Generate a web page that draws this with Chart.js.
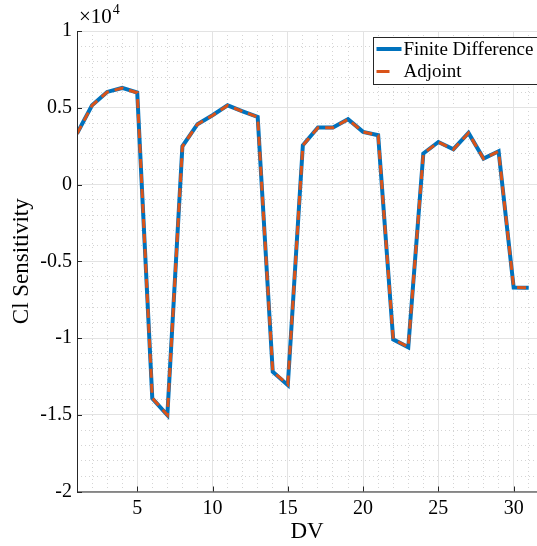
<!DOCTYPE html>
<html>
<head>
<meta charset="utf-8">
<script src="https://cdn.jsdelivr.net/npm/chart.js@4/dist/chart.umd.min.js"></script>
<style>
  html, body { margin: 0; padding: 0; background: #fff; }
  #wrap { width: 537px; height: 546px; }
</style>
</head>
<body>
<div id="wrap"><canvas id="chart"></canvas></div>
<script>
// design variables 1..31
const dv = [1,2,3,4,5,6,7,8,9,10,11,12,13,14,15,16,17,18,19,20,21,22,23,24,25,26,27,28,29,30,31];

// sensitivities (raw values, axis shows x10^4)
const finiteDiff = [3320,5160,6030,6290,5990,-13930,-15020,2490,3930,4510,5160,4770,4400,-12200,-13070,
  2560,3710,3710,4250,3430,3210,-10090,-10610,2020,2770,2300,3360,1690,2170,-6710,-6720];
const adjoint = [3300,5150,6020,6280,5980,-13920,-15010,2480,3920,4500,5150,4760,4390,-12190,-13020,
  2550,3700,3700,4240,3420,3200,-10080,-10590,2010,2760,2290,3350,1680,2160,-6700,-6730];

const seriesNames = ["Finite Difference", "Adjoint"];
const xTicks = [5, 10, 15, 20, 25, 30];
const yTicks = [-20000, -15000, -10000, -5000, 0, 5000, 10000];
const yLabels = ["-2", "-1.5", "-1", "-0.5", "0", "0.5", "1"];

const serif = "'Liberation Serif', 'DejaVu Serif', serif";
const axisColor = "#262626";

// minor tick positions for the dotted grid
const xMinor = dv.slice();
const yMinor = [];
for (let v = -20000; v <= 10000; v += 1000) yMinor.push(v);

// draws x10^4, the inward tick marks, axis lines and the legend box
const decorPlugin = {
  id: "decor",
  afterDraw(chart) {
    const ctx = chart.ctx;
    const a = chart.chartArea;
    const xs = chart.scales.x, ys = chart.scales.y;
    ctx.save();
    // axis lines
    ctx.strokeStyle = axisColor;
    ctx.lineWidth = 1;
    ctx.beginPath();
    ctx.moveTo(a.left + 0.5, a.top);
    ctx.lineTo(a.left + 0.5, a.bottom + 0.5);
    ctx.lineTo(a.right, a.bottom + 0.5);
    ctx.stroke();
    // inward ticks
    ctx.beginPath();
    xTicks.forEach(v => {
      const px = Math.round(xs.getPixelForValue(v)) + 0.5;
      ctx.moveTo(px, a.bottom);
      ctx.lineTo(px, a.bottom - 5);
    });
    yTicks.forEach(v => {
      const py = Math.round(ys.getPixelForValue(v)) + 0.5;
      ctx.moveTo(a.left, py);
      ctx.lineTo(a.left + 5, py);
    });
    ctx.stroke();

    // exponent label
    ctx.fillStyle = "#000";
    ctx.textBaseline = "alphabetic";
    ctx.textAlign = "left";
    ctx.font = "21px " + serif;
    ctx.fillText("\u00d710", a.left + 2, a.top - 8);
    const w = ctx.measureText("\u00d710").width;
    ctx.font = "14px " + serif;
    ctx.fillText("4", a.left + 2 + w + 1, a.top - 17);

    // legend box
    const bx = 373.5, by = 37.5, bw = 175, bh = 47;
    ctx.fillStyle = "#fff";
    ctx.fillRect(bx, by, bw, bh);
    ctx.strokeStyle = axisColor;
    ctx.lineWidth = 1;
    ctx.strokeRect(bx, by, bw, bh);
    const ds = chart.data.datasets;
    const rows = [49, 71.5];
    ds.forEach((d, i) => {
      ctx.strokeStyle = d.borderColor;
      ctx.lineWidth = d.borderWidth;
      ctx.setLineDash(d.borderDash ? [13, 14] : []);
      ctx.beginPath();
      ctx.moveTo(bx + 3, rows[i]);
      ctx.lineTo(bx + 28, rows[i]);
      ctx.stroke();
      ctx.setLineDash([]);
      ctx.fillStyle = "#000";
      ctx.font = "19px " + serif;
      ctx.textBaseline = "middle";
      ctx.fillText(d.label, bx + 30, rows[i] + 1);
    });
    ctx.restore();
  }
};

const ctx = document.getElementById("chart");
new Chart(ctx, {
  type: "line",
  data: {
    labels: dv,
    datasets: [
      {
        label: seriesNames[0],
        data: dv.map((x, i) => ({ x: x, y: finiteDiff[i] })),
        borderColor: "#0072BD",
        borderWidth: 4,
        pointRadius: 0,
        tension: 0,
        order: 2
      },
      {
        label: seriesNames[1],
        data: dv.map((x, i) => ({ x: x, y: adjoint[i] })),
        borderColor: "#D95319",
        borderWidth: 3,
        borderDash: [9, 6],
        pointRadius: 0,
        tension: 0,
        order: 1
      }
    ]
  },
  plugins: [decorPlugin],
  options: {
    responsive: true,
    maintainAspectRatio: false,
    animation: false,
    layout: { padding: { left: 0, right: 0, top: 31, bottom: 0 } },
    plugins: {
      legend: { display: false },
      tooltip: { enabled: false }
    },
    scales: {
      xMinor: {
        type: "linear", position: "bottom", min: 1, max: 31.55,
        afterBuildTicks: s => { s.ticks = xMinor.map(v => ({ value: v })); },
        afterFit: s => { s.height = 0; },
        ticks: { display: false },
        grid: { color: "#d4d4d4", lineWidth: 1, drawTicks: false },
        border: { display: false, dash: [1, 3] }
      },
      yMinor: {
        type: "linear", position: "left", min: -20000, max: 10000,
        afterBuildTicks: s => { s.ticks = yMinor.map(v => ({ value: v })); },
        afterFit: s => { s.width = 0; },
        ticks: { display: false },
        grid: { color: "#d4d4d4", lineWidth: 1, drawTicks: false },
        border: { display: false, dash: [1, 3] }
      },
      x: {
        type: "linear", position: "bottom", min: 1, max: 31.55,
        afterBuildTicks: s => { s.ticks = xTicks.map(v => ({ value: v })); },
        afterFit: s => { s.height = 54.5; },
        ticks: { color: "#000", font: { family: serif, size: 20 }, padding: 5, maxRotation: 0 },
        grid: { color: "#e3e3e3", lineWidth: 1, drawTicks: false },
        border: { display: false },
        title: { display: true, text: "DV", color: "#000", font: { family: serif, size: 23 }, padding: { top: 0, bottom: 0 } }
      },
      y: {
        type: "linear", position: "left", min: -20000, max: 10000,
        afterBuildTicks: s => { s.ticks = yTicks.map(v => ({ value: v })); },
        afterFit: s => { s.width = 77; },
        ticks: {
          color: "#000", font: { family: serif, size: 20 }, padding: 5,
          callback: (v) => yLabels[yTicks.indexOf(v)]
        },
        grid: { color: "#e3e3e3", lineWidth: 1, drawTicks: false },
        border: { display: false },
        title: { display: true, text: "Cl Sensitivity", color: "#000", font: { family: serif, size: 23 }, padding: { top: 8, bottom: 4 } }
      }
    }
  }
});
</script>
</body>
</html>
